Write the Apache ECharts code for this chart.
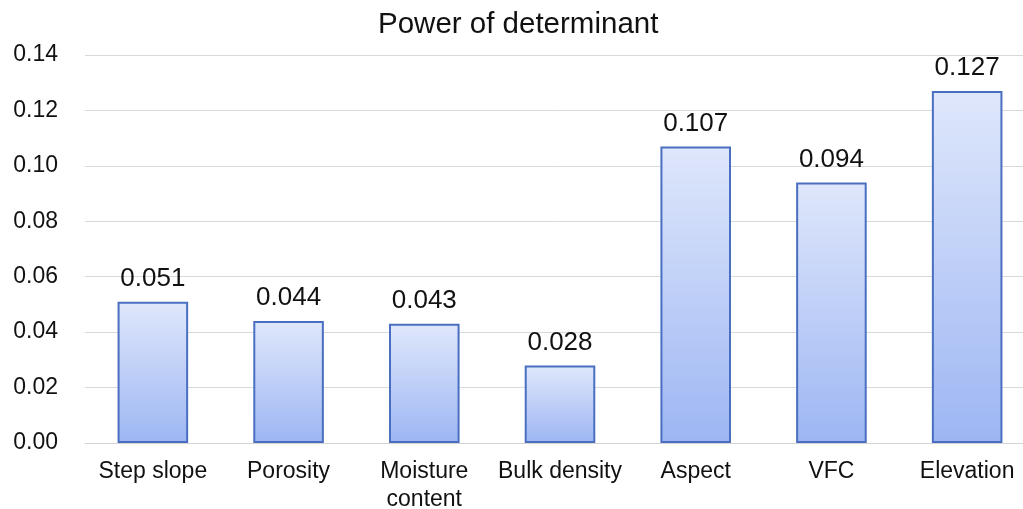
<!DOCTYPE html>
<html>
<head>
<meta charset="utf-8">
<style>
  html, body { margin: 0; padding: 0; background: #ffffff; }
  #chart { width: 1023px; height: 509px; }
</style>
<script src="https://cdn.jsdelivr.net/npm/echarts@6/dist/echarts.min.js"></script>
</head>
<body>
<div id="chart"></div>
<script>
// Determinant factors and their explanatory power (q values)
const categories = ['Step slope', 'Porosity', 'Moisture\ncontent', 'Bulk density', 'Aspect', 'VFC', 'Elevation'];
const powerValues = [0.051, 0.044, 0.043, 0.028, 0.107, 0.094, 0.127];
const yTicks = { min: 0, max: 0.14, interval: 0.02 };

const FONT = '"Liberation Sans", Arial, sans-serif';

const chart = echarts.init(document.getElementById('chart'), null, { renderer: 'canvas' });

chart.setOption({
  animation: false,
  backgroundColor: '#ffffff',
  title: {
    text: 'Power of determinant',
    left: 373,
    top: 5,
    textStyle: { fontFamily: FONT, fontSize: 29.5, fontWeight: 'normal', color: '#111' }
  },
  // plot area runs slightly past the right edge of the canvas
  grid: { left: 85, top: 55, width: 950, height: 388, containLabel: false, outerBoundsMode: 'none' },
  xAxis: {
    type: 'category',
    data: categories,
    axisLine: { show: true, lineStyle: { color: '#d4d4d4', width: 1 } },
    axisTick: { show: false },
    axisLabel: {
      fontFamily: FONT, fontSize: 23, color: '#111',
      margin: 15, lineHeight: 28, interval: 0
    }
  },
  yAxis: {
    type: 'value',
    min: yTicks.min, max: yTicks.max, interval: yTicks.interval,
    axisLine: { show: false },
    axisTick: { show: false },
    splitLine: { lineStyle: { color: '#d9d9d9', width: 1 } },
    axisLabel: {
      fontFamily: FONT, fontSize: 23, color: '#111', margin: 27,
      formatter: v => v.toFixed(2)
    }
  },
  series: [{
    type: 'bar',
    data: powerValues,
    barWidth: '52%',
    itemStyle: {
      borderColor: '#4a6fc0',
      borderWidth: 2,
      color: new echarts.graphic.LinearGradient(0, 0, 0, 1, [
        { offset: 0, color: '#dfe7fb' },
        { offset: 1, color: '#9db6f3' }
      ])
    },
    label: {
      show: true,
      position: 'top',
      distance: 10,
      fontFamily: FONT, fontSize: 26, color: '#111',
      formatter: p => p.value.toFixed(3)
    }
  }]
});
</script>
</body>
</html>
